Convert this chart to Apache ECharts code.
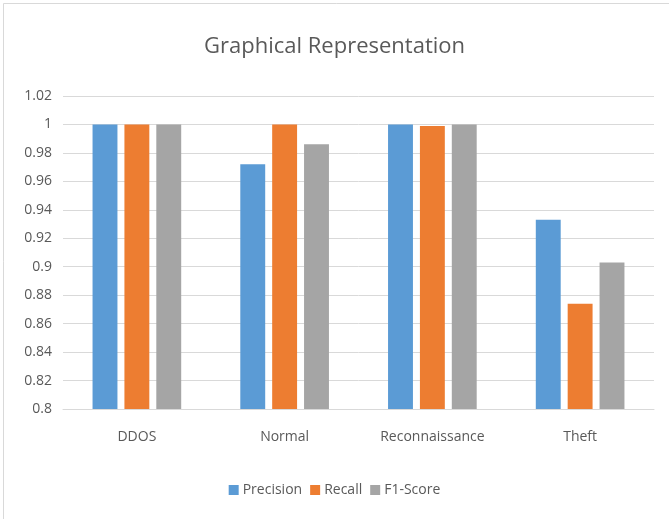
<!DOCTYPE html>
<html>
<head>
<meta charset="utf-8">
<script src="https://cdn.jsdelivr.net/npm/echarts@6/dist/echarts.min.js"></script>
<style>
html,body{margin:0;padding:0;background:#fff;}
#chart{width:669px;height:519px;}
</style>
</head>
<body>
<div id="chart"></div>
<script>
// Classification metrics per traffic class
const categories = ['DDOS', 'Normal', 'Reconnaissance', 'Theft'];
const precision = [1.0, 0.972, 1.0, 0.933];
const recall = [1.0, 1.0, 0.999, 0.874];
const f1Score = [1.0, 0.986, 1.0, 0.903];
const seriesNames = ['Precision', 'Recall', 'F1-Score'];
const colors = ['#5B9BD5', '#ED7D31', '#A5A5A5'];

const font = '"Open Sans", "Noto Sans", sans-serif';
const chart = echarts.init(document.getElementById('chart'));

const makeBar = (name, data, i) => ({
  name: name,
  type: 'bar',
  data: data,
  itemStyle: { color: colors[i] },
  barGap: '28%',
  barCategoryGap: '40%'
});

chart.setOption({
  animation: false,
  backgroundColor: '#ffffff',
  graphic: [{
    type: 'polyline',
    shape: { points: [[3.5, 519], [3.5, 3.5], [669, 3.5]] },
    style: { fill: 'none', stroke: '#d9d9d9', lineWidth: 1 }
  }],
  title: {
    text: 'Graphical Representation',
    left: 'center',
    top: 31,
    textStyle: { fontFamily: font, fontSize: 22, fontWeight: 'normal', color: '#595959' }
  },
  legend: {
    data: seriesNames,
    bottom: 17,
    left: 'center',
    icon: 'rect',
    itemWidth: 10,
    itemHeight: 10,
    itemGap: 8,
    textStyle: { fontFamily: font, fontSize: 14, color: '#595959', padding: [0, 0, 0, -1] }
  },
  grid: { left: 63, right: 15, top: 96, bottom: 110 },
  xAxis: {
    type: 'category',
    data: categories,
    axisTick: { show: false },
    axisLine: { lineStyle: { color: '#d9d9d9' } },
    axisLabel: { fontFamily: font, fontSize: 14, color: '#595959', margin: 21 }
  },
  yAxis: {
    type: 'value',
    min: 0.8,
    max: 1.02,
    interval: 0.02,
    axisLine: { show: false },
    axisTick: { show: false },
    splitLine: { lineStyle: { color: '#d9d9d9' } },
    axisLabel: {
      fontFamily: font, fontSize: 14, color: '#595959', margin: 11,
      formatter: v => String(parseFloat(v.toFixed(2)))
    }
  },
  series: [
    makeBar(seriesNames[0], precision, 0),
    makeBar(seriesNames[1], recall, 1),
    makeBar(seriesNames[2], f1Score, 2)
  ]
});
</script>
</body>
</html>
